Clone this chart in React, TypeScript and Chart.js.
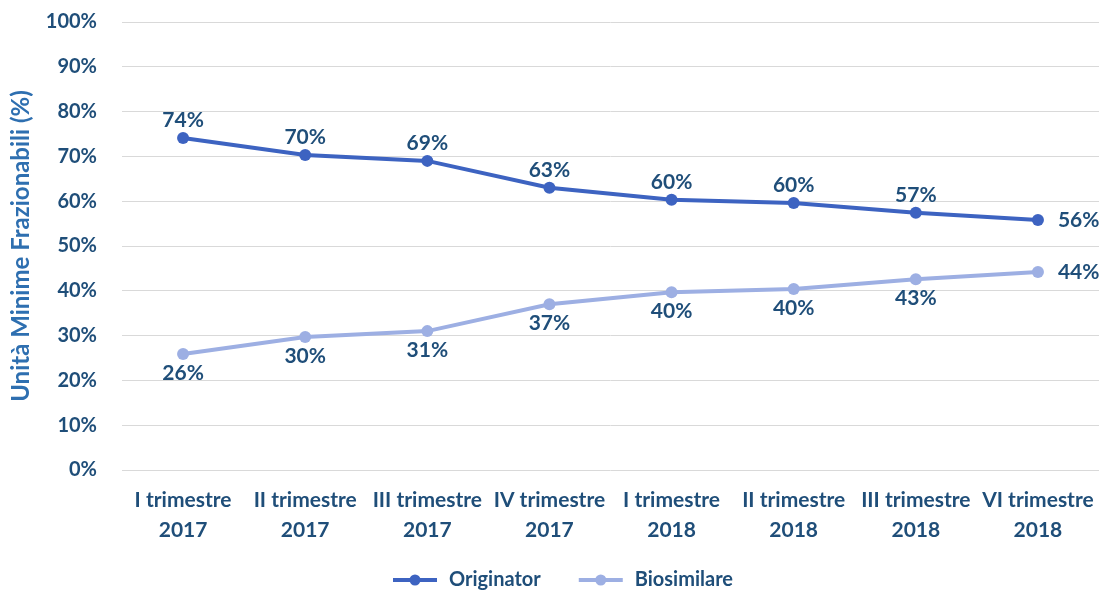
import React, { useEffect, useRef } from "react";
import { Chart, registerables } from "chart.js";

Chart.register(...registerables);

const categories: string[][] = [
  ["I trimestre", "2017"],
  ["II trimestre", "2017"],
  ["III trimestre", "2017"],
  ["IV trimestre", "2017"],
  ["I trimestre", "2018"],
  ["II trimestre", "2018"],
  ["III trimestre", "2018"],
  ["VI trimestre", "2018"],
];
const originator = [74.1, 70.3, 69.0, 63.0, 60.3, 59.6, 57.4, 55.8];
const biosimilare = [25.9, 29.7, 31.0, 37.0, 39.7, 40.4, 42.6, 44.2];
const seriesNames = ["Originator", "Biosimilare"];
const yTitle = "Unità Minime Frazionabili (%)";

const FONT = "Lato, 'Open Sans', sans-serif";
const TEXT = "#1f4e79";
const C1 = "#3d63c1";
const C2 = "#9dafe3";

const labelPlugin = {
  id: "valueLabels",
  afterDatasetsDraw(chart: any) {
    const ctx = chart.ctx;
    ctx.save();
    ctx.font = `bold 21px ${FONT}`;
    ctx.fillStyle = TEXT;
    chart.data.datasets.forEach((ds: any, di: number) => {
      const meta = chart.getDatasetMeta(di);
      meta.data.forEach((pt: any, i: number) => {
        const txt = Math.round(ds.data[i]) + "%";
        const last = i === meta.data.length - 1;
        ctx.textBaseline = "middle";
        if (last) {
          ctx.textAlign = "left";
          ctx.fillText(txt, pt.x + 20, pt.y);
        } else {
          ctx.textAlign = "center";
          ctx.fillText(txt, pt.x, di === 0 ? pt.y - 18 : pt.y + 19);
        }
      });
    });
    ctx.restore();
  },
};

const legendPlugin = {
  id: "customLegend",
  afterDraw(chart: any) {
    const ctx = chart.ctx;
    ctx.save();
    ctx.font = `bold 20px ${FONT}`;
    const colors = [C1, C2];
    const y = 580;
    const lineW = 44;
    const gap = 12;
    const sep = 38;
    const widths = seriesNames.map((n) => lineW + gap + ctx.measureText(n).width);
    const total = widths.reduce((a, b) => a + b, 0) + sep;
    let x = 563 - total / 2;
    seriesNames.forEach((n, i) => {
      ctx.strokeStyle = colors[i];
      ctx.lineWidth = 4;
      ctx.beginPath();
      ctx.moveTo(x, y);
      ctx.lineTo(x + lineW, y);
      ctx.stroke();
      ctx.fillStyle = colors[i];
      ctx.beginPath();
      ctx.arc(x + lineW / 2, y, 5.5, 0, Math.PI * 2);
      ctx.fill();
      ctx.fillStyle = TEXT;
      ctx.textAlign = "left";
      ctx.textBaseline = "middle";
      ctx.fillText(n, x + lineW + gap, y);
      x += widths[i] + sep;
    });
    ctx.restore();
  },
};

export default function App() {
  const ref = useRef<HTMLCanvasElement>(null);
  useEffect(() => {
    if (!ref.current) return;
    const chart = new Chart(ref.current, {
      type: "line",
      data: {
        labels: categories,
        datasets: [
          {
            label: seriesNames[0],
            data: originator,
            borderColor: C1,
            backgroundColor: C1,
            borderWidth: 4,
            pointRadius: 6,
            pointBackgroundColor: C1,
            pointBorderWidth: 0,
            tension: 0,
          },
          {
            label: seriesNames[1],
            data: biosimilare,
            borderColor: C2,
            backgroundColor: C2,
            borderWidth: 4,
            pointRadius: 6,
            pointBackgroundColor: C2,
            pointBorderWidth: 0,
            tension: 0,
          },
        ],
      },
      options: {
        responsive: false,
        animation: false,
        layout: { padding: { top: 22, right: 0, bottom: 50, left: 0 } },
        plugins: {
          legend: { display: false },
          tooltip: { enabled: false },
        },
        scales: {
          x: {
            offset: true,
            grid: { display: false, drawTicks: false },
            border: { display: false },
            ticks: {
              color: TEXT,
              font: { family: FONT, size: 21, weight: "bold", lineHeight: 1.45 },
              padding: 15,
              maxRotation: 0,
              autoSkip: false,
            },
            afterFit(scale: any) {
              scale.height = 71;
              scale.paddingLeft = 0;
              scale.paddingRight = 0;
            },
          },
          y: {
            min: 0,
            max: 100,
            grid: { color: "#d9d9d9", lineWidth: 1, drawTicks: false },
            border: { display: false },
            ticks: {
              stepSize: 10,
              color: TEXT,
              font: { family: FONT, size: 20, weight: "bold" },
              padding: 25,
              callback: (v: any) => v + "%",
            },
            title: {
              display: true,
              text: yTitle,
              color: "#2e6fb0",
              font: { family: FONT, size: 24, weight: "bold", lineHeight: 1.2 },
              padding: { top: 7, bottom: 0 },
            },
            afterFit(scale: any) {
              scale.width = 122;
              scale.paddingTop = 0;
              scale.paddingBottom = 0;
            },
          },
        },
      },
      plugins: [labelPlugin, legendPlugin],
    });
    return () => chart.destroy();
  }, []);
  return (
    <div style={{ position: "absolute", left: 0, top: 0, width: 1105, height: 591 }}>
      <canvas ref={ref} width={1105} height={591} />
    </div>
  );
}
